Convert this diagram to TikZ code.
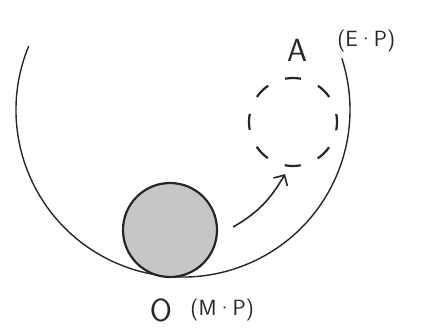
\documentclass[tikz,border=0pt]{standalone}
\usepackage{xcolor}
\usepackage{tikz}
\usetikzlibrary{arrows.meta,positioning}
\definecolor{pencil}{HTML}{262626}
\definecolor{shade}{HTML}{C6C6C6}

\begin{document}
\begin{tikzpicture}[
  x=1pt,y=1pt,
  ball/.style={circle,draw=pencil,line width=2.2pt,fill=shade,minimum size=94pt,inner sep=0pt},
  ghost/.style={circle,draw=pencil,line width=2.2pt,dash pattern=on 16pt off 18.5pt,dash phase=8pt,minimum size=88pt,inner sep=0pt},
  tag/.style={text=pencil,font=\sffamily\fontsize{32}{32}\selectfont,inner sep=0pt},
  note/.style={text=pencil,font=\sffamily\fontsize{22}{22}\selectfont,inner sep=0pt},
  move/.style={-{Straight Barb[length=8pt,width=16pt]},line width=1.6pt,draw=pencil},
  track/.style={line width=1.4pt,draw=pencil}
]
\useasboundingbox (0,0) rectangle (430,327);
\draw[track] (183,217) ++(157.5:167) arc[start angle=157.5,end angle=378,radius=167];
\node[ball] (ball) at (170,97) {};
\node[ghost] (ghost) at (293,205) {};
\node[tag,above=15pt of ghost,xshift=4pt] (a) {A};
\node[note,right=30pt of a,yshift=10pt] (ep) {(E·P)};
\node[tag,below=20pt of ball,xshift=-9pt] (o) {O};
\node[note,right=18pt of o] (mp) {(M·P)};
\draw[move] ([shift={(15pt,3pt)}]ball.east) to[out=30,in=-120] ([shift={(-8pt,-7pt)}]ghost.south);
\end{tikzpicture}
\end{document}
